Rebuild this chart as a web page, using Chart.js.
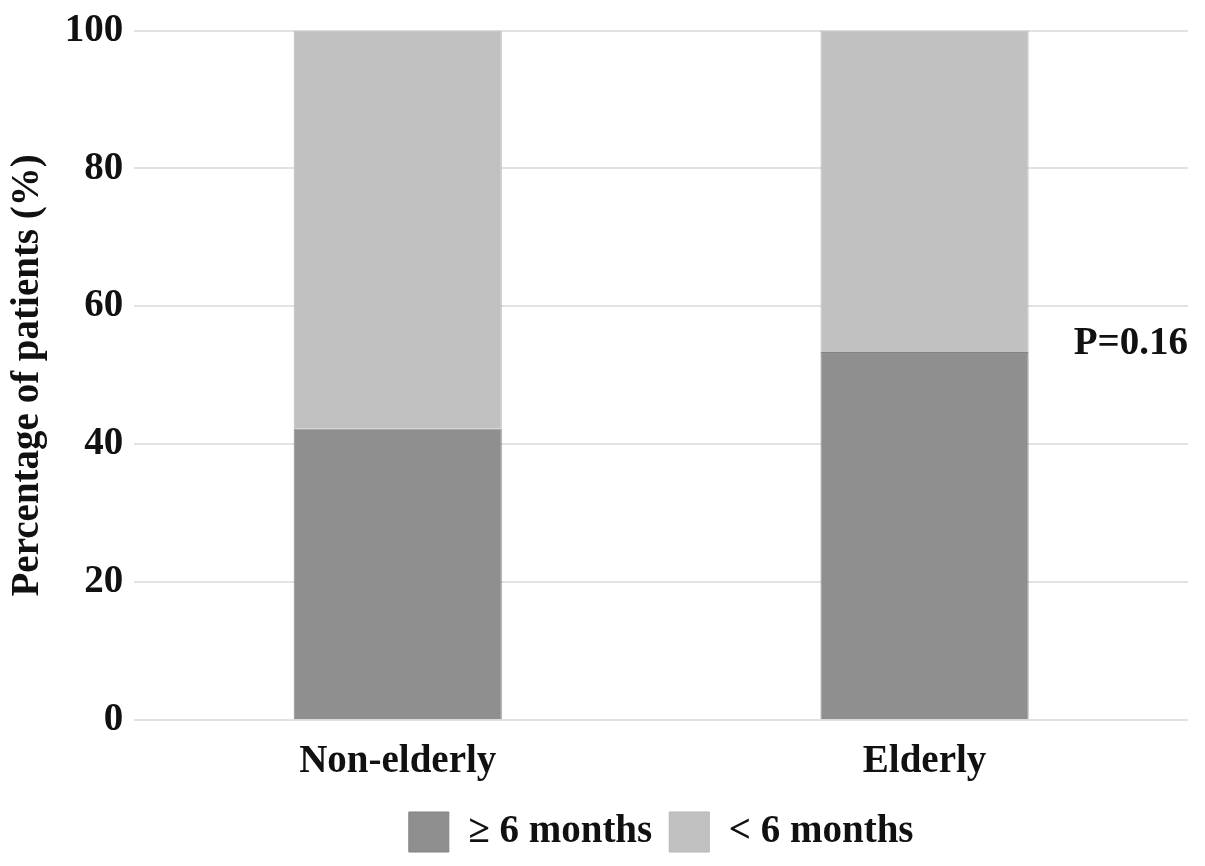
<!DOCTYPE html>
<html>
<head>
<meta charset="utf-8">
<script src="https://cdn.jsdelivr.net/npm/chart.js@4/dist/chart.umd.min.js"></script>
<style>
	html, body { margin: 0; padding: 0; background: #fff; }
	#wrap { width: 1205px; height: 866px; }
</style>
</head>
<body>
<div id="wrap"><canvas id="survival-chart"></canvas></div>
<script>
// Chart data
var groups = ['Non-elderly', 'Elderly'];
var longSurvival = [42.3, 53.4];   // >= 6 months
var shortSurvival = [57.7, 46.6];  // < 6 months
var yTicks = [0, 20, 40, 60, 80, 100];
var pLabel = 'P=0.16';

var serif = '"Liberation Serif", "Times New Roman", serif';

// P value text next to the second bar
var pValuePlugin = {
	id: 'pValue',
	afterDatasetsDraw: function(chart) {
		var ctx = chart.ctx;
		var y = chart.scales.y.getPixelForValue(longSurvival[1] + 1.2);
		ctx.save();
		ctx.font = 'bold 39px ' + serif;
		ctx.fillStyle = '#111';
		ctx.textAlign = 'right';
		ctx.textBaseline = 'middle';
		ctx.fillText(pLabel, chart.chartArea.right, y);
		ctx.restore();
	}
};

// nudge legend so it sits under the plot area
var legendShift = {
	id: 'legendShift',
	afterLayout: function(chart) {
		var dx = (chart.chartArea.left + chart.chartArea.right) / 2 - (chart.legend.left + chart.legend.right) / 2;
		chart.legend.left += dx;
		chart.legend.right += dx;
	}
};

var ctx = document.getElementById('survival-chart');

var chart = new Chart(ctx, {
	type: 'bar',
	data: {
		labels: groups,
		datasets: [
			{
				label: '\u2265 6 months',
				data: longSurvival,
				backgroundColor: '#8f8f8f',
				borderColor: '#838383',
				borderWidth: 1
			},
			{
				label: '< 6 months',
				data: shortSurvival,
				backgroundColor: '#c1c1c1',
				borderColor: '#b5b5b5',
				borderWidth: 1
			}
		]
	},
	options: {
		responsive: true,
		maintainAspectRatio: false,
		animation: false,
		layout: { padding: { top: 6, right: 17, left: 5, bottom: 4 } },
		datasets: { bar: { barPercentage: 1, categoryPercentage: 0.395 } },
		scales: {
			x: {
				stacked: true,
				grid: { display: false },
				border: { display: false },
				ticks: { color: '#111', font: { family: serif, size: 39, weight: 'bold' }, padding: 10 }
			},
			y: {
				stacked: true,
				min: 0,
				max: 100,
				afterBuildTicks: function(axis) {
					axis.ticks = yTicks.map(function(v) { return { value: v }; });
				},
				grid: { color: '#e2e2e2', lineWidth: 2, drawTicks: false },
				border: { display: false },
				ticks: { color: '#111', font: { family: serif, size: 39, weight: 'bold', lineHeight: 1 }, padding: 11 },
				title: {
					display: true,
					text: 'Percentage of patients (%)',
					color: '#111',
					font: { family: serif, size: 39, weight: 'bold' },
					padding: { top: 0, bottom: 2 }
				}
			}
		},
		plugins: {
			legend: {
				position: 'bottom',
				labels: {
					color: '#111',
					font: { family: serif, size: 39, weight: 'bold' },
					boxWidth: 40,
					boxHeight: 40,
					padding: 17
				}
			},
			tooltip: { enabled: false }
		}
	},
	plugins: [pValuePlugin, legendShift]
});
</script>
</body>
</html>
